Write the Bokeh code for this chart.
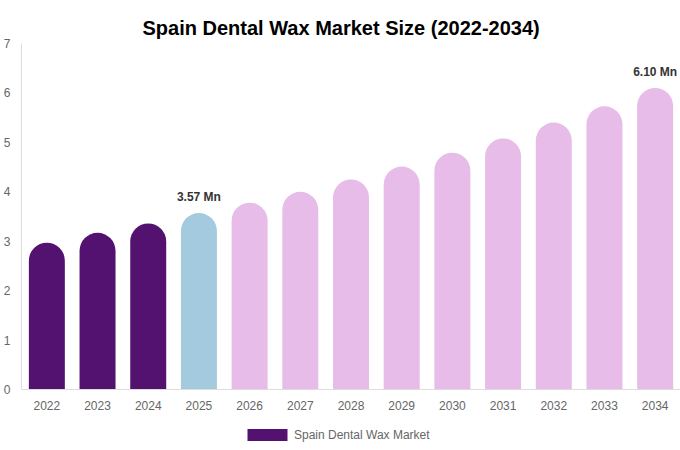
from bokeh.plotting import figure
from bokeh.layouts import column
from bokeh.models import ColumnDataSource, Range1d, FactorRange, Legend, LegendItem
from bokeh.core.properties import value
from bokeh.embed import file_html
from bokeh.resources import INLINE

years = ["2022", "2023", "2024", "2025", "2026", "2027", "2028",
         "2029", "2030", "2031", "2032", "2033", "2034"]
market_size = [2.97, 3.17, 3.36, 3.57, 3.78, 4.00, 4.25,
               4.51, 4.79, 5.08, 5.40, 5.73, 6.10]
bar_colors = ["#541270", "#541270", "#541270", "#a4cadf"] + ["#e8bce8"] * 9
labeled_years = ["2025", "2034"]
series_name = "Spain Dental Wax Market"
title_text = "Spain Dental Wax Market Size (2022-2034)"

FONT = "Liberation Sans"

src = ColumnDataSource(dict(x=years, top=market_size, color=bar_colors))
lab_vals = [market_size[years.index(y)] for y in labeled_years]
lab_src = ColumnDataSource(dict(x=labeled_years, y=lab_vals,
                                text=[f"{v:.2f} Mn" for v in lab_vals]))

p = figure(width=680, height=420, x_range=FactorRange(*years),
           y_range=Range1d(0, 7), output_backend="svg", toolbar_location=None,
           min_border_left=20, min_border_right=0, min_border_top=43,
           min_border_bottom=31)

p.title.text = title_text
p.title.align = "left"
p.title.offset = 121
p.title.text_font = FONT
p.title.text_font_size = "20px"
p.title.text_font_style = "bold"
p.title.text_color = "#000000"

bars = p.vbar(x="x", top="top", width=0.71, source=src, fill_color="color",
              line_color=None, border_radius=(18, 18, 0, 0))

p.text(x="x", y="y", text="text", source=lab_src, text_align="center",
       text_baseline="bottom", y_offset=-9, text_font=value(FONT),
       text_font_size="12px", text_font_style="bold", text_color="#333333")

p.xgrid.visible = False
p.ygrid.visible = False
p.outline_line_color = None

for ax in (p.xaxis[0], p.yaxis[0]):
    ax.axis_line_color = "#dddddd"
    ax.major_tick_line_color = None
    ax.minor_tick_line_color = None
    ax.major_tick_out = 0
    ax.major_tick_in = 0
    ax.major_label_text_font = FONT
    ax.major_label_text_font_size = "12px"
    ax.major_label_text_color = "#666666"

p.yaxis[0].major_label_standoff = 7
p.xaxis[0].major_label_standoff = 11
p.yaxis[0].ticker.desired_num_ticks = 8

# legend strip below the chart (key glyph sits outside the visible range)
p2 = figure(width=680, height=30, x_range=Range1d(0, 1), y_range=Range1d(0, 1),
            output_backend="svg", toolbar_location=None,
            x_axis_location=None, y_axis_location=None,
            min_border_left=0, min_border_right=0, min_border_top=0,
            min_border_bottom=0)
p2.xgrid.visible = False
p2.ygrid.visible = False
p2.outline_line_color = None
key = p2.vbar(x=[5], top=[5], width=0.5, fill_color=bar_colors[0], line_color=None)

legend = Legend(items=[LegendItem(label=series_name, renderers=[key])],
                location=(221, 8), orientation="horizontal",
                glyph_width=50, glyph_height=15, label_text_font=FONT,
                label_text_font_size="12px", label_text_color="#666666",
                border_line_color=None, background_fill_alpha=0,
                padding=2, margin=0, label_standoff=2)
p2.add_layout(legend, "center")

layout = column(p, p2, spacing=0)
open("out.html", "w").write(file_html(layout, INLINE))
